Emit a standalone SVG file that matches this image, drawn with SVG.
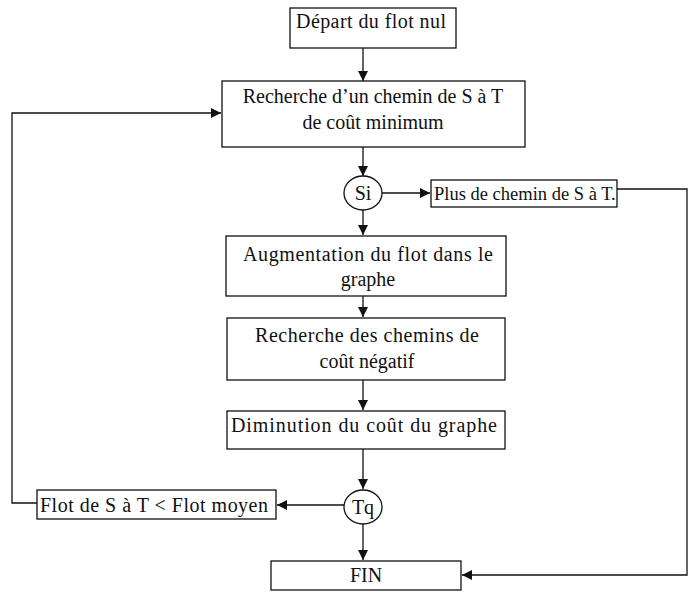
<svg xmlns="http://www.w3.org/2000/svg" width="694" height="592" viewBox="0 0 694 592">
<style>
.box{fill:#fff;stroke:#111;stroke-width:1.3}
.t{font-family:"Liberation Serif","Times New Roman",serif;font-size:20px;fill:#111}
.c{text-anchor:middle}
.ln{fill:none;stroke:#111;stroke-width:1.3}
</style>
<defs>
<marker id="ah" viewBox="0 0 10 10" refX="10" refY="5" markerWidth="10" markerHeight="10" markerUnits="userSpaceOnUse" orient="auto">
<path d="M0,0 L10,5 L0,10 z" fill="#111"/>
</marker>
</defs>
<g id="connectors">
<path class="ln" d="M363,48 V81" marker-end="url(#ah)"/>
<path class="ln" d="M363,147 V176" marker-end="url(#ah)"/>
<path class="ln" d="M382,193 H430" marker-end="url(#ah)"/>
<path class="ln" d="M617,189 H687 V575 H462" marker-end="url(#ah)"/>
<path class="ln" d="M363,210 V235" marker-end="url(#ah)"/>
<path class="ln" d="M363,296 V317" marker-end="url(#ah)"/>
<path class="ln" d="M363,380 V410" marker-end="url(#ah)"/>
<path class="ln" d="M363,449 V489" marker-end="url(#ah)"/>
<path class="ln" d="M344,505 H277" marker-end="url(#ah)"/>
<path class="ln" d="M37,503 H12 V113 H221" marker-end="url(#ah)"/>
<path class="ln" d="M363,524 V560" marker-end="url(#ah)"/>
</g>
<g id="depart">
<rect class="box" x="290" y="8" width="166" height="40"/>
<text class="t" x="296" y="28" textLength="150" lengthAdjust="spacing">Départ du flot nul</text>
</g>
<g id="recherche">
<rect class="box" x="222" y="81" width="303" height="66"/>
<text class="t c" x="373" y="103">Recherche d’un chemin de S à T</text>
<text class="t c" x="373" y="129">de coût minimum</text>
</g>
<g id="si">
<ellipse class="box" cx="363" cy="193" rx="19" ry="17"/>
<text class="t c" x="363" y="200">Si</text>
</g>
<g id="plus">
<rect class="box" x="431" y="180" width="186" height="27"/>
<text class="t" x="434" y="200" style="font-size:18.5px">Plus de chemin de S à T.</text>
</g>
<g id="augmentation">
<rect class="box" x="226" y="236" width="280" height="60"/>
<text class="t c" x="368" y="261" textLength="250" lengthAdjust="spacing">Augmentation du flot dans le</text>
<text class="t c" x="368" y="286">graphe</text>
</g>
<g id="negatif">
<rect class="box" x="227" y="318" width="278" height="62"/>
<text class="t c" x="367" y="342" textLength="224" lengthAdjust="spacing">Recherche des chemins de</text>
<text class="t c" x="367" y="368">coût négatif</text>
</g>
<g id="diminution">
<rect class="box" x="227" y="411" width="278" height="38"/>
<text class="t" x="231" y="432" textLength="266" lengthAdjust="spacing">Diminution du coût du graphe</text>
</g>
<g id="tq">
<ellipse class="box" cx="363" cy="507" rx="19" ry="17"/>
<text class="t c" x="363" y="514">Tq</text>
</g>
<g id="flot">
<rect class="box" x="37" y="490" width="239" height="29"/>
<text class="t" x="40" y="512" textLength="228" lengthAdjust="spacing">Flot de S à T &lt; Flot moyen</text>
</g>
<g id="fin">
<rect class="box" x="271" y="561" width="190" height="29"/>
<text class="t c" x="366" y="582">FIN</text>
</g>
</svg>
